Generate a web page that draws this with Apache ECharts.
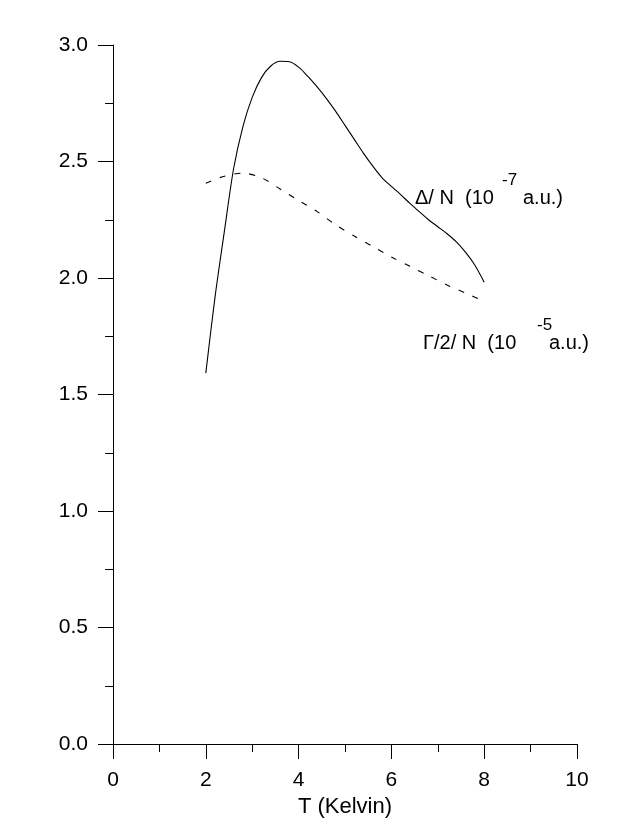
<!DOCTYPE html>
<html>
<head>
<meta charset="utf-8">
<script src="https://cdn.jsdelivr.net/npm/echarts@6/dist/echarts.min.js"></script>
<style>html,body{margin:0;padding:0;background:#fff}#c{width:623px;height:831px}</style>
</head>
<body>
<div id="c"></div>
<script>
// Δ/N (10^-7 a.u.) — solid curve
const deltaT = [2.0, 2.2, 2.4, 2.6, 2.8, 3.0, 3.2, 3.4, 3.6, 3.8, 4.0, 4.2, 4.4, 4.6, 4.8, 5.0, 5.2, 5.4, 5.6, 5.8, 6.0, 6.2, 6.4, 6.6, 6.8, 7.0, 7.2, 7.4, 7.6, 7.8, 8.0];
const deltaV = [1.592, 1.92, 2.20, 2.47, 2.65, 2.775, 2.86, 2.91, 2.93, 2.928, 2.905, 2.865, 2.82, 2.77, 2.715, 2.655, 2.595, 2.535, 2.48, 2.43, 2.393, 2.358, 2.32, 2.285, 2.25, 2.22, 2.19, 2.155, 2.11, 2.055, 1.982];
// Γ/2/N (10^-5 a.u.) — dashed curve
const gammaT = [2.0, 2.4, 2.8, 3.2, 3.6, 4.0, 4.4, 4.8, 5.2, 5.6, 6.0, 6.4, 6.8, 7.2, 7.6, 8.0];
const gammaV = [2.407, 2.437, 2.45, 2.43, 2.382, 2.333, 2.285, 2.228, 2.18, 2.135, 2.09, 2.05, 2.01, 1.97, 1.935, 1.9];
const xTicks = {min: 0, max: 10, interval: 2};
const yTicks = {min: 0, max: 3, interval: 0.5};

const FONT = 'Liberation Sans';
const chart = echarts.init(document.getElementById('c'), null, {renderer: 'canvas'});
const pairs = (xs, ys) => xs.map((x, i) => [x, ys[i]]);

chart.setOption({
  animation: false,
  backgroundColor: '#fff',
  grid: {left: 113, right: 46, top: 45, bottom: 87, containLabel: false},
  xAxis: {
    type: 'value', min: xTicks.min, max: xTicks.max, interval: xTicks.interval,
    name: 'T (Kelvin)', nameLocation: 'middle', nameGap: 44,
    nameTextStyle: {fontFamily: FONT, fontSize: 22, color: '#000'},
    axisLine: {show: true, lineStyle: {color: '#000', width: 1}},
    axisTick: {show: true, length: 15, lineStyle: {color: '#000', width: 1}},
    minorTick: {show: true, splitNumber: 2, length: 8, lineStyle: {color: '#000', width: 1}},
    splitLine: {show: false},
    axisLabel: {margin: 26, fontFamily: FONT, fontSize: 21, color: '#000'}
  },
  yAxis: {
    type: 'value', min: yTicks.min, max: yTicks.max, interval: yTicks.interval,
    axisLine: {show: true, lineStyle: {color: '#000', width: 1}},
    axisTick: {show: true, length: 15, lineStyle: {color: '#000', width: 1}},
    minorTick: {show: true, splitNumber: 2, length: 8, lineStyle: {color: '#000', width: 1}},
    splitLine: {show: false},
    axisLabel: {margin: 25, fontFamily: FONT, fontSize: 21, color: '#000',
      formatter: v => v.toFixed(1)}
  },
  series: [
    {type: 'line', data: pairs(deltaT, deltaV), smooth: 0.3, showSymbol: false,
     lineStyle: {color: '#000', width: 1.1}},
    {type: 'line', data: pairs(gammaT, gammaV), smooth: 0.3, showSymbol: false,
     lineStyle: {color: '#000', width: 1.1, type: [6, 9]}}
  ],
  graphic: [
    {type: 'text', left: 415, top: 188, style: {text: 'Δ/ N  (10', fontFamily: FONT, fontSize: 20, fill: '#000'}},
    {type: 'text', left: 502, top: 172, style: {text: '-7', fontFamily: FONT, fontSize: 17, fill: '#000'}},
    {type: 'text', left: 523, top: 188, style: {text: 'a.u.)', fontFamily: FONT, fontSize: 20, fill: '#000'}},
    {type: 'text', left: 423, top: 333, style: {text: 'Γ/2/ N  (10', fontFamily: FONT, fontSize: 20, fill: '#000'}},
    {type: 'text', left: 537, top: 317, style: {text: '-5', fontFamily: FONT, fontSize: 17, fill: '#000'}},
    {type: 'text', left: 549, top: 333, style: {text: 'a.u.)', fontFamily: FONT, fontSize: 20, fill: '#000'}}
  ]
});
</script>
</body>
</html>
